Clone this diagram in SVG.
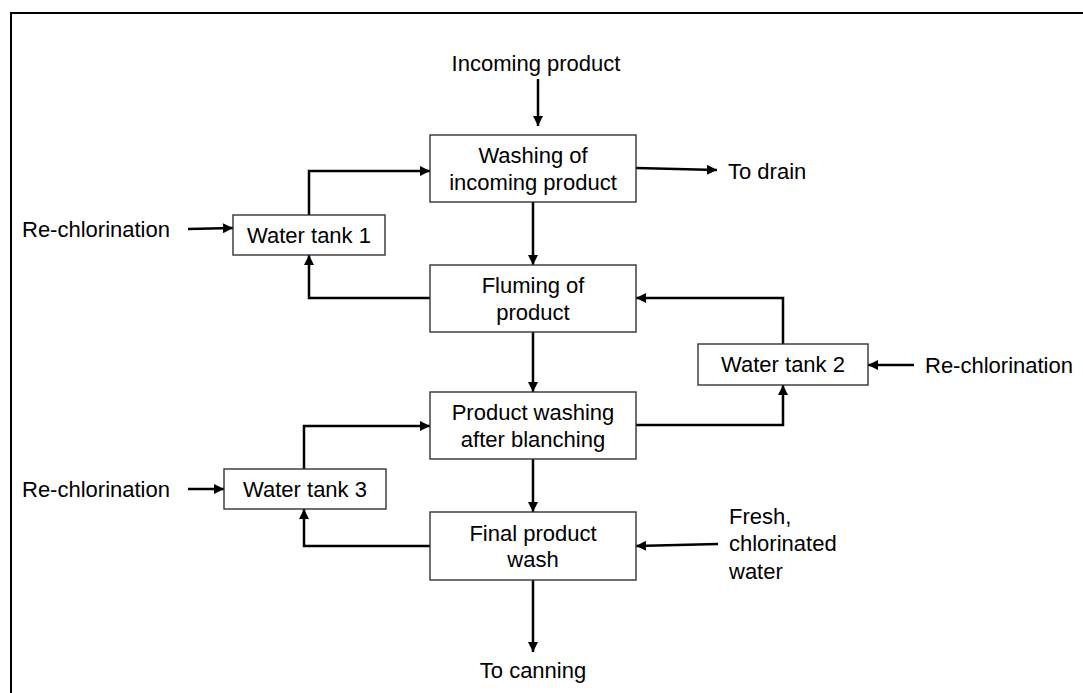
<svg xmlns="http://www.w3.org/2000/svg" width="1083" height="693" viewBox="0 0 1083 693">
<style>
.box{fill:#fff;stroke:#333;stroke-width:1.4}
.t{font-family:"Liberation Sans",Arial,sans-serif;font-size:22px;fill:#000}
.c{text-anchor:middle}
.ln{fill:none;stroke:#000;stroke-width:2.5}
</style>
<defs>
<marker id="ah" viewBox="0 0 10 10" refX="10" refY="5" markerWidth="11" markerHeight="10" markerUnits="userSpaceOnUse" orient="auto">
<path d="M0,0 L10,5 L0,10 z" fill="#000"/>
</marker>
</defs>
<rect width="1083" height="693" fill="#fff"/>
<path d="M11,693 V13 H1083" fill="none" stroke="#000" stroke-width="2"/>

<g id="connectors">
<line class="ln" x1="538" y1="79" x2="538" y2="126" marker-end="url(#ah)"/>
<line class="ln" x1="636" y1="168" x2="717" y2="170" marker-end="url(#ah)"/>
<line class="ln" x1="533" y1="202" x2="533" y2="265" marker-end="url(#ah)"/>
<polyline class="ln" points="430,298 309,298 309,255" marker-end="url(#ah)"/>
<polyline class="ln" points="309,215 309,171 430,171" marker-end="url(#ah)"/>
<line class="ln" x1="188" y1="229" x2="233" y2="228" marker-end="url(#ah)"/>
<polyline class="ln" points="783,344 783,298 636,298" marker-end="url(#ah)"/>
<polyline class="ln" points="636,425 783,425 783,385" marker-end="url(#ah)"/>
<line class="ln" x1="914" y1="365" x2="868" y2="365" marker-end="url(#ah)"/>
<line class="ln" x1="533" y1="332" x2="533" y2="392" marker-end="url(#ah)"/>
<polyline class="ln" points="304,469 304,426 430,426" marker-end="url(#ah)"/>
<polyline class="ln" points="430,546 304,546 304,509" marker-end="url(#ah)"/>
<line class="ln" x1="188" y1="489" x2="224" y2="489" marker-end="url(#ah)"/>
<line class="ln" x1="533" y1="459" x2="533" y2="512" marker-end="url(#ah)"/>
<line class="ln" x1="718" y1="544" x2="636" y2="546" marker-end="url(#ah)"/>
<line class="ln" x1="533" y1="580" x2="533" y2="652" marker-end="url(#ah)"/>
</g>

<g id="labels">
<text class="t c" x="536" y="71">Incoming product</text>
<text class="t" x="728" y="179">To drain</text>
<text class="t" x="22" y="237">Re-chlorination</text>
<text class="t" x="925" y="373">Re-chlorination</text>
<text class="t" x="22" y="497">Re-chlorination</text>
<text class="t" x="729" y="524">Fresh,</text>
<text class="t" x="729" y="551">chlorinated</text>
<text class="t" x="729" y="579">water</text>
<text class="t c" x="533" y="678">To canning</text>
</g>

<g id="washing">
<rect class="box" x="430" y="135" width="206" height="67"/>
<text class="t c" x="533" y="163">Washing of</text>
<text class="t c" x="533" y="190">incoming product</text>
</g>
<g id="fluming">
<rect class="box" x="430" y="265" width="206" height="67"/>
<text class="t c" x="533" y="293">Fluming of</text>
<text class="t c" x="533" y="320">product</text>
</g>
<g id="blanching">
<rect class="box" x="430" y="392" width="206" height="67"/>
<text class="t c" x="533" y="420">Product washing</text>
<text class="t c" x="533" y="447">after blanching</text>
</g>
<g id="final">
<rect class="box" x="430" y="512" width="206" height="68"/>
<text class="t c" x="533" y="541">Final product</text>
<text class="t c" x="533" y="567">wash</text>
</g>
<g id="tank1">
<rect class="box" x="233" y="215" width="152" height="40"/>
<text class="t c" x="309" y="243">Water tank 1</text>
</g>
<g id="tank2">
<rect class="box" x="698" y="344" width="170" height="41"/>
<text class="t c" x="783" y="372">Water tank 2</text>
</g>
<g id="tank3">
<rect class="box" x="224" y="469" width="162" height="40"/>
<text class="t c" x="305" y="497">Water tank 3</text>
</g>
</svg>
